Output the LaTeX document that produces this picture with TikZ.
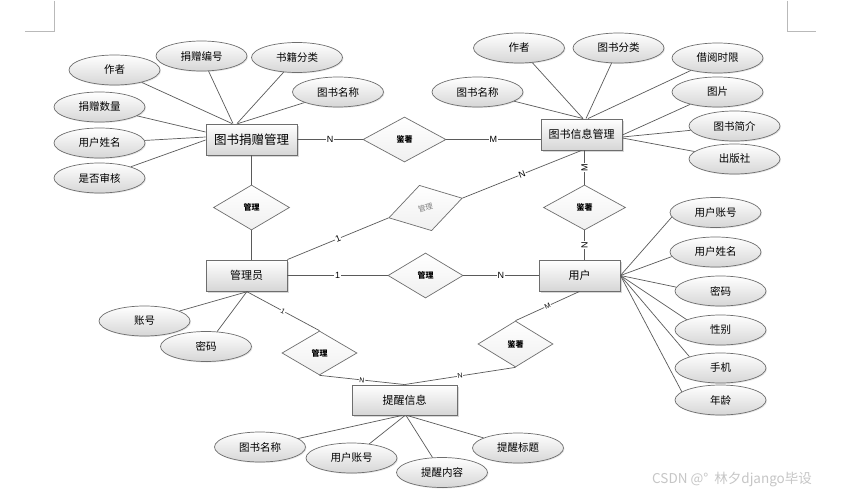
\documentclass[tikz,border=0pt]{standalone}
\usepackage{fontspec}
\newfontfamily\cjk{Noto Sans CJK SC}
\newfontfamily\lab{Liberation Sans}
\usetikzlibrary{shapes.geometric,shadows,calc}
\definecolor{edgec}{HTML}{5A5A5A}
\definecolor{bordc}{HTML}{6E6E6E}
\definecolor{shadec}{HTML}{D6D6D6}
\begin{document}
\begin{tikzpicture}[x=1pt,y=-1pt,
  ent/.style={rectangle, draw=bordc, line width=0.9pt, top color=white, bottom color=shadec,
    minimum width=81pt, minimum height=31pt, inner sep=0pt, font=\cjk\fontsize{11}{13}\selectfont,
    drop shadow={shadow xshift=1.5pt, shadow yshift=-1.5pt, opacity=0.3}},
  attr/.style={ellipse, draw=bordc, line width=0.7pt, top color=white, bottom color=shadec,
    minimum width=91pt, minimum height=30pt, inner sep=0pt, font=\cjk\fontsize{10.5}{12}\selectfont,
    drop shadow={shadow xshift=1pt, shadow yshift=-1pt, opacity=0.2}},
  rel/.style={diamond, draw=bordc, line width=0.7pt, top color=white, bottom color=gray!12,
    minimum width=76pt, minimum height=45pt, inner sep=0pt, font=\cjk\bfseries\fontsize{8}{9}\selectfont},
  conn/.style={draw=edgec, line width=0.7pt},
  lbl/.style={fill=white, inner sep=0.6pt, font=\lab\fontsize{9}{10}\selectfont, text=black},
  slbl/.style={lbl, font=\lab\fontsize{7}{8}\selectfont},
]
\useasboundingbox (0,0) rectangle (845,495);
\fill[white] (0,0) rectangle (845,495);

% corner marks
\draw[gray!55, line width=0.6pt] (54,1) -- (54,31) -- (25,31);
\draw[gray!55, line width=0.6pt] (787,1) -- (787,31) -- (816,31);

% entities
\node[ent, font=\cjk\fontsize{12.5}{14}\selectfont, minimum width=91pt] (dm) at (251.5,139.5) {图书捐赠管理};
\node[ent] (bm) at (581.5,134.5) {图书信息管理};
\node[ent] (adm) at (246.5,275.5) {管理员};
\node[ent] (usr) at (579.5,275.5) {用户};
\node[ent, minimum width=105pt, minimum height=30pt] (rem) at (404.5,400) {提醒信息};

% relationships
\node[rel, minimum width=83pt] (r1) at (404.5,139.5) {鉴著};
\node[rel] (r2) at (251.5,207.5) {管理};
\node[rel, rotate=15, minimum width=76pt, minimum height=47pt,
  font=\cjk\fontsize{7.5}{9}\selectfont, text=gray] (r3) at (425.5,208) {管理};
\node[rel, minimum width=82pt] (r4) at (584.5,207.5) {鉴著};
\node[rel, minimum width=75pt] (r5) at (425.5,275.5) {管理};
\node[rel, minimum width=75pt, minimum height=44pt] (r6) at (319.5,353) {管理};
\node[rel, minimum width=75pt, minimum height=46pt] (r7) at (515.5,344) {鉴著};

% attributes of 图书捐赠管理
\node[attr] (d1) at (114.5,70) {作者};
\node[attr] (d2) at (201.5,56) {捐赠编号};
\node[attr] (d3) at (297,57.5) {书籍分类};
\node[attr] (d4) at (338,92) {图书名称};
\node[attr] (d5) at (99.5,107) {捐赠数量};
\node[attr] (d6) at (99.5,143) {用户姓名};
\node[attr] (d7) at (99.5,178) {是否审核};

% attributes of 图书信息管理
\node[attr] (b1) at (519,48) {作者};
\node[attr] (b2) at (618.5,48) {图书分类};
\node[attr] (b3) at (717.5,58) {借阅时限};
\node[attr] (b4) at (477.5,92) {图书名称};
\node[attr] (b5) at (717.5,92) {图片};
\node[attr] (b6) at (734.5,126) {图书简介};
\node[attr] (b7) at (734.5,159) {出版社};

% attributes of 管理员
\node[attr] (m1) at (144.5,321) {账号};
\node[attr] (m2) at (206,346.5) {密码};

% attributes of 用户
\node[attr] (u1) at (715.5,212.5) {用户账号};
\node[attr] (u2) at (715.5,252) {用户姓名};
\node[attr] (u3) at (720.5,291) {密码};
\node[attr] (u4) at (720.5,330) {性别};
\node[attr] (u5) at (720.5,368) {手机};
\node[attr] (u6) at (720.5,400) {年龄};

% attributes of 提醒信息
\node[attr] (t1) at (260,447) {图书名称};
\node[attr] (t2) at (351.5,458) {用户账号};
\node[attr] (t3) at (442,472.5) {提醒内容};
\node[attr] (t4) at (518,448) {提醒标题};

% attribute connectors
\draw[conn] (d1) -- ($(dm.north)+(-19.5,0)$);
\draw[conn] (d2) -- ($(dm.north)+(-18.5,0)$);
\draw[conn] (d3) -- ($(dm.north)+(-14.5,0)$);
\draw[conn] (d4) -- ($(dm.north)+(-13.5,0)$);
\draw[conn] (d5) -- ($(dm.west)+(0,-7.5)$);
\draw[conn] (d6) -- ($(dm.west)+(0,-2.5)$);
\draw[conn] (d7) -- ($(dm.west)+(0,0.5)$);

\draw[conn] (b1) -- ($(bm.north)+(1.5,0)$);
\draw[conn] (b2) -- ($(bm.north)+(4.5,0)$);
\draw[conn] (b3) -- ($(bm.north)+(6.5,0)$);
\draw[conn] (b4) -- ($(bm.north)+(1.5,0)$);
\draw[conn] (b5) -- ($(bm.east)+(0,0.5)$);
\draw[conn] (b6) -- ($(bm.east)+(0,2.5)$);
\draw[conn] (b7) -- ($(bm.east)+(0,3.5)$);

\draw[conn] (m1) -- ($(adm.south)+(1.5,0)$);
\draw[conn] (m2) -- ($(adm.south)+(0.5,0)$);

\draw[conn] (u1.186) -- (usr.east);
\draw[conn] (u2.186) -- (usr.east);
\draw[conn] (u3.175) -- (usr.east);
\draw[conn] (u4.163) -- (usr.east);
\draw[conn] (u5.160) -- (usr.east);
\draw[conn] (u6.168) -- (usr.east);

\draw[conn] (t1) -- ($(rem.south)+(-2.5,0)$);
\draw[conn] (t2) -- ($(rem.south)+(0.5,0)$);
\draw[conn] (t3) -- ($(rem.south)+(1.5,0)$);
\draw[conn] (t4) -- ($(rem.south)+(2.5,0)$);

% relationship connectors
\draw[conn] (dm.east) -- node[lbl]{N} (r1.west);
\draw[conn] (r1.east) -- node[lbl]{M} (r1.east -| bm.west);
\draw[conn] (r2.north |- dm.south) -- (r2.north);
\draw[conn] (r2.south) -- (r2.south |- adm.north);
\draw[conn] (adm.north east) -- node[lbl, sloped]{1} (r3.west);
\draw[conn] (r3.east) -- node[lbl, sloped]{N} (bm.south);
\draw[conn] (r4.north |- bm.south) -- node[lbl, rotate=90]{M} (r4.north);
\draw[conn] (r4.south) -- node[lbl, rotate=90]{N} (r4.south |- usr.north);
\draw[conn] (adm.east) -- node[lbl]{1} (r5.west);
\draw[conn] (r5.east) -- node[lbl]{N} (usr.west);
\draw[conn] (adm.south) -- node[slbl, sloped]{1} (r6.north);
\draw[conn] (r6.south) -- node[slbl, sloped]{N} (rem.north);
\draw[conn] (usr.south) -- node[slbl, sloped]{M} (r7.north);
\draw[conn] (r7.south) -- node[slbl, sloped]{N} (rem.north);

% watermark
\node[font=\cjk\fontsize{13.5}{15}\selectfont, text=gray!45, anchor=west, inner sep=0pt] (wm) at (652,480) {CSDN @°\ \ 林夕django毕设};
\end{tikzpicture}
\end{document}
